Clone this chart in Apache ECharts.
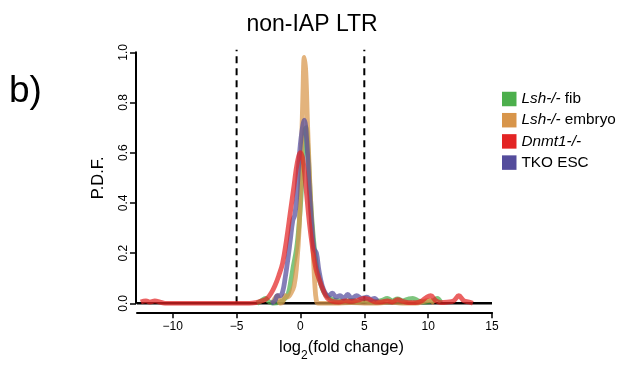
<!DOCTYPE html>
<html><head><meta charset="utf-8">
<script src="https://cdn.jsdelivr.net/npm/echarts@6/dist/echarts.min.js"></script>
<style>html,body{margin:0;padding:0;background:#fff}#c{width:624px;height:367px}</style>
</head><body><div id="c"></div>
<script>
const seriesNames = ['Lsh-/- fib', 'Lsh-/- embryo', 'Dnmt1-/-', 'TKO ESC'];
const xTicks = [-10, -5, 0, 5, 10, 15];
const yTicks = [0, 0.2, 0.4, 0.6, 0.8, 1.0];
const vLines = [-5, 5];

const fibX = [-3.4,-3.0,-2.75,-2.5,-2.1,-1.6,-1.2,-0.95,-0.75,-0.55,-0.3,-0.1,0.05,0.2,0.35,0.45,0.6,0.75,0.9,1.05,1.25,1.45,1.7,1.95,2.3,2.7,3.1,3.5,4.0,4.5,5.0,5.5,6.0,6.4,6.8,7.2,7.6,8.0,8.4,8.8,9.2,9.6,10.0,10.4,10.7,11.0];
const fibY = [0,0.012,0.02,0.008,0,0.005,0.02,0.04,0.09,0.15,0.22,0.32,0.43,0.58,0.69,0.70,0.6,0.45,0.33,0.24,0.15,0.1,0.06,0.035,0.02,0.012,0.01,0.008,0.012,0.006,0.01,0.005,0.008,0.012,0.02,0.01,0.018,0.01,0.016,0.02,0.01,0.005,0.006,0.01,0.02,0.004];

const embX = [-2.2,-2.0,-1.8,-1.6,-1.4,-1.2,-1.0,-0.75,-0.5,-0.3,-0.1,0.05,0.2,0.3,0.42,0.55,0.7,0.85,1.0,1.12,1.25,1.4,2,3,4,5,6,7,8,9,9.7,10.1,10.5];
const embY = [0,0.02,0.03,0,0.005,0.03,0.025,0.04,0.07,0.15,0.3,0.55,0.85,0.98,0.92,0.72,0.52,0.35,0.2,0.08,0.01,0,0,0,0.003,0,0,0.005,0,0,0.008,0.012,0];

const dnmX = [-12.5,-12.1,-11.8,-11.4,-11.0,-10.6,-9,-7,-5,-4,-3.5,-3.0,-2.6,-2.3,-2.0,-1.7,-1.4,-1.1,-0.8,-0.5,-0.25,0.0,0.2,0.45,0.7,0.95,1.2,1.5,1.8,2.1,2.5,3.0,3.5,4.0,4.5,5.0,5.4,5.9,6.4,6.8,7.2,7.6,8.0,8.5,9.0,9.5,9.9,10.2,10.6,11.0,11.5,12.0,12.4,12.8,13.2,13.5];
const dnmY = [0.005,0.01,0.005,0.01,0.005,0,0,0,0,0,0.003,0.01,0.02,0.04,0.07,0.11,0.16,0.25,0.36,0.47,0.56,0.6,0.57,0.45,0.32,0.22,0.14,0.09,0.05,0.02,0.008,0.005,0.01,0.008,0.012,0.02,0.015,0.005,0.006,0.01,0.005,0.015,0.008,0.003,0.003,0.01,0.025,0.03,0.01,0.003,0.005,0.01,0.03,0.01,0.005,0];

const tkoX = [-2.3,-2.0,-1.8,-1.6,-1.4,-1.2,-1.0,-0.8,-0.6,-0.45,-0.3,-0.1,0.1,0.3,0.5,0.7,0.9,1.05,1.25,1.45,1.7,1.95,2.2,2.5,2.8,3.1,3.4,3.7,4.0,4.4,4.8,5.2,5.5,5.8,6.0];
const tkoY = [0,0.01,0.03,0.03,0.045,0.1,0.17,0.25,0.33,0.35,0.42,0.58,0.68,0.73,0.64,0.45,0.3,0.22,0.2,0.13,0.07,0.04,0.03,0.04,0.025,0.03,0.02,0.035,0.02,0.03,0.02,0.025,0.015,0.02,0.01];

const colors = ['#4caf4c', '#d8954a', '#e32424', '#544c9c'];
const zip = (xs, ys) => xs.map((x, i) => [x, ys[i]]);
const FONT = 'Liberation Sans, Arial, sans-serif';

function curve(name, xs, ys, color) {
  return {
    name, type: 'line', data: zip(xs, ys), smooth: 0.4, symbol: 'none',
    itemStyle: { color },
    lineStyle: { color, width: 4.8, opacity: 0.72 },
    z: 3
  };
}

const vlineSeries = vLines.map(v => ({
  name: 'v' + v, type: 'line', data: [[v, 0], [v, 1.01]], symbol: 'none', clip: false, silent: true,
  lineStyle: { color: '#000', width: 2, type: [7, 5] }, z: 1
}));

const chart = echarts.init(document.getElementById('c'), null, { renderer: 'canvas' });
chart.setOption({
  animation: false,
  backgroundColor: '#fff',
  title: {
    text: 'non-IAP LTR', left: 'center', top: 8,
    textStyle: { fontFamily: FONT, fontSize: 23, fontWeight: 'normal', color: '#000' }
  },
  graphic: [{
    type: 'text', left: 9, top: 73,
    style: { text: 'b)', font: '37px ' + FONT, fill: '#000' }
  }],
  grid: { left: 137, right: 132, top: 52.3, bottom: 63.7, containLabel: false, outerBoundsMode: 'none' },
  legend: {
    orient: 'vertical', left: 497, top: 86.5,
    data: seriesNames,
    icon: 'rect', itemWidth: 14.5, itemHeight: 14.5, itemGap: 6.2, itemTextGap: 10,
    textStyle: {
      fontFamily: FONT, fontSize: 15.3, color: '#000',
      rich: { i: { fontFamily: FONT, fontSize: 15.3, fontStyle: 'italic', color: '#000' } }
    },
    formatter: function (n) {
      const m = n.match(/^(Lsh-\/-|Dnmt1-\/-)(.*)$/);
      return m ? '{i|' + m[1] + '}' + m[2] : n;
    }
  },
  xAxis: {
    type: 'value', min: -12.8, max: 15, offset: 9,
    name: 'log{s|2}(fold change)', nameLocation: 'middle', nameGap: 27,
    nameTextStyle: {
      fontFamily: FONT, fontSize: 16.5, color: '#000', padding: [0, 0, 0, 54],
      rich: { s: { fontFamily: FONT, fontSize: 12, color: '#000', verticalAlign: 'bottom', padding: [0, 0, -5, 0] } }
    },
    splitLine: { show: false },
    axisLine: { show: true, onZero: false, lineStyle: { color: '#000', width: 2 } },
    axisTick: { show: true, length: 6, lineStyle: { color: '#000', width: 1.5 }, customValues: xTicks },
    axisLabel: {
      customValues: xTicks, margin: 8, fontFamily: FONT, fontSize: 12, color: '#000',
      formatter: v => (v < 0 ? '\u2212' + Math.abs(v) : String(v))
    }
  },
  yAxis: {
    type: 'value', min: 0, max: 1, interval: 0.2, offset: 1,
    name: 'P.D.F.', nameLocation: 'middle', nameGap: 29, nameRotate: 90,
    nameTextStyle: { fontFamily: FONT, fontSize: 16.5, color: '#000' },
    splitLine: { show: false },
    axisLine: { show: true, onZero: false, lineStyle: { color: '#000', width: 2 } },
    axisTick: { show: true, length: 6, lineStyle: { color: '#000', width: 1.5 } },
    axisLabel: {
      rotate: 90, margin: 6, fontFamily: FONT, fontSize: 12, color: '#000',
      formatter: v => yTicks.some(t => Math.abs(t - v) < 1e-9) ? v.toFixed(1) : ''
    }
  },
  series: [
    {
      name: 'baseline', type: 'line', data: [[-12.8, 0], [15, 0]], symbol: 'none', clip: false,
      lineStyle: { color: '#000', width: 2.5 }, z: 1, silent: true
    },
    ...vlineSeries,
    curve(seriesNames[0], fibX, fibY, colors[0]),
    curve(seriesNames[1], embX, embY, colors[1]),
    curve(seriesNames[3], tkoX, tkoY, colors[3]),
    curve(seriesNames[2], dnmX, dnmY, colors[2])
  ]
});
</script></body></html>
